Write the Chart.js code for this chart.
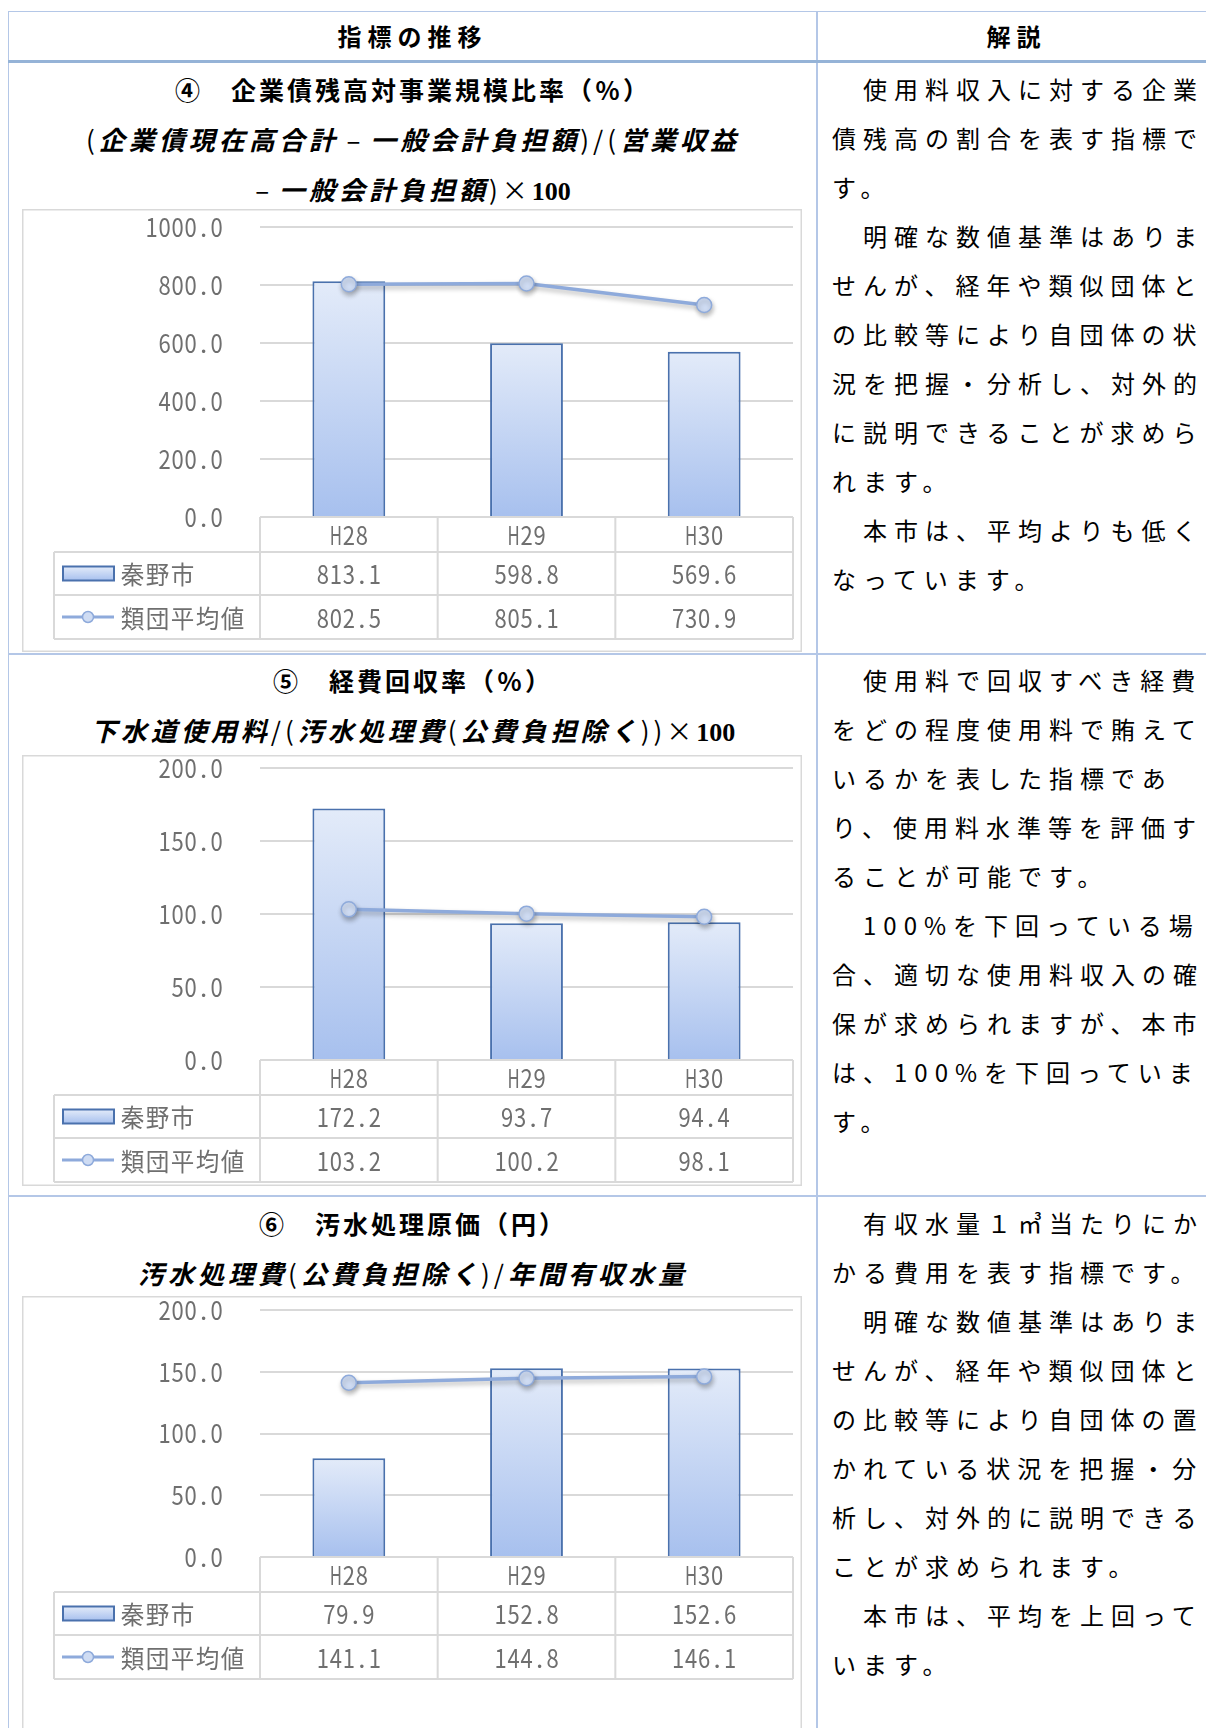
<!DOCTYPE html>
<html lang="ja">
<head>
<meta charset="utf-8">
<title>指標の推移</title>
<script src="https://cdn.jsdelivr.net/npm/chart.js@4.4.1/dist/chart.umd.min.js"></script>
<style>
html, body { margin: 0; padding: 0; background: #fff; }
body { width: 1206px; height: 1728px; overflow: hidden; position: relative;
       font-family: "Noto Sans CJK JP", sans-serif; color: #000; }
.ln { position: absolute; background: #b4c7e7; }
.hd { position: absolute; top: 11px; height: 50px; line-height: 50px; text-align: center;
      font-weight: bold; font-size: 24px; letter-spacing: 6px; }
.ttl { position: absolute; left: 9px; width: 808px; text-align: center; line-height: 50px; white-space: nowrap; }
.ttl .t { font-weight: bold; font-size: 25px; letter-spacing: 3px; }
.ttl .f { font-size: 26px; letter-spacing: 4px; }
.ttl .f i { font-weight: bold; font-style: italic; }
.ttl .f .n { font-family: "Liberation Serif", serif; font-weight: bold; letter-spacing: 0; }
.ttl .f .d { letter-spacing: 2px; }
.txt { position: absolute; left: 832px; font-size: 24px; line-height: 49px; letter-spacing: 7px; white-space: nowrap; }
canvas { position: absolute; left: 22px; }
</style>
</head>
<body>

<!-- table frame -->
<div class="ln" style="left:8px;top:11px;width:1198px;height:1px"></div>
<div class="ln" style="left:8px;top:11px;width:1px;height:1717px"></div>
<div class="ln" style="left:816px;top:11px;width:2px;height:1717px"></div>
<div class="ln" style="left:8px;top:60px;width:1198px;height:3px;background:#95b3d7"></div>
<div class="ln" style="left:8px;top:653px;width:1198px;height:2px"></div>
<div class="ln" style="left:8px;top:1195px;width:1198px;height:2px"></div>

<div class="hd" style="left:9px;width:807px">指標の推移</div>
<div class="hd" style="left:818px;width:397px">解説</div>

<!-- ④ -->
<div class="ttl" style="top:64px">
  <div class="t">④　企業債残高対事業規模比率（％）</div>
  <div class="f">(<i>企業債現在高合計</i><span class="d"> – </span><i>一般会計負担額</i>)/(<i>営業収益</i></div>
  <div class="f"><span class="d">– </span><i>一般会計負担額</i>)×<span class="n">100</span></div>
</div>
<canvas id="chart1" width="780" height="443" style="top:209px"></canvas>
<div class="txt" style="top:64px">
　使用料収入に対する企業<br>債残高の割合を表す指標で<br>す。<br>
　明確な数値基準はありま<br>せんが、経年や類似団体と<br>の比較等により自団体の状<br>況を把握・分析し、対外的<br>に説明できることが求めら<br>れます。<br>
　本市は、平均よりも低く<br>なっています。
</div>

<!-- ⑤ -->
<div class="ttl" style="top:655px">
  <div class="t">⑤　経費回収率（％）</div>
  <div class="f"><i>下水道使用料</i>/(<i>汚水処理費</i>(<i>公費負担除く</i>))×<span class="n">100</span></div>
</div>
<canvas id="chart2" width="780" height="431" style="top:755px"></canvas>
<div class="txt" style="top:655px">
　使用料で回収すべき経費<br>をどの程度使用料で賄えて<br>いるかを表した指標であ<br>り、使用料水準等を評価す<br>ることが可能です。<br>
　100%を下回っている場<br>合、適切な使用料収入の確<br>保が求められますが、本市<br>は、100%を下回っていま<br>す。
</div>

<!-- ⑥ -->
<div class="ttl" style="top:1198px">
  <div class="t">⑥　汚水処理原価（円）</div>
  <div class="f"><i>汚水処理費</i>(<i>公費負担除く</i>)/<i>年間有収水量</i></div>
</div>
<canvas id="chart3" width="780" height="440" style="top:1296px"></canvas>
<div class="txt" style="top:1198px">
　有収水量１㎥当たりにか<br>かる費用を表す指標です。<br>
　明確な数値基準はありま<br>せんが、経年や類似団体と<br>の比較等により自団体の置<br>かれている状況を把握・分<br>析し、対外的に説明できる<br>ことが求められます。<br>
　本市は、平均を上回って<br>います。
</div>

<script>
// data
const years = ["H28", "H29", "H30"];
const seriesNames = ["秦野市", "類団平均値"];

const hadanoDebt = [813.1, 598.8, 569.6];
const avgDebt = [802.5, 805.1, 730.9];
const debtTicks = [0, 200, 400, 600, 800, 1000];

const hadanoRecovery = [172.2, 93.7, 94.4];
const avgRecovery = [103.2, 100.2, 98.1];
const recoveryTicks = [0, 50, 100, 150, 200];

const hadanoCost = [79.9, 152.8, 152.6];
const avgCost = [141.1, 144.8, 146.1];
const costTicks = [0, 50, 100, 150, 200];

const GRID = "#d9d9d9";
const LABEL = "#6f6f6f";
const BAR_EDGE = "#4a71ad";
const LINE = "#8eaadb";
const DOT = "#cfdcf3";

// draws text like a fixed-pitch Japanese font: half-width cells for ASCII, full cells otherwise
function drawMono(ctx, text, x, y, align, size) {
    ctx.save();
    ctx.font = size + 'px "Noto Sans CJK JP"';
    ctx.textBaseline = "middle";
    ctx.textAlign = "center";
    const chars = [...text];
    const cells = chars.map(ch => ch.charCodeAt(0) < 256 ? size / 2 : size);
    const total = cells.reduce((a, b) => a + b, 0);
    let cx = align === "right" ? x - total : align === "center" ? x - total / 2 : x;
    chars.forEach((ch, i) => {
        const w = cells[i];
        const mw = ctx.measureText(ch).width;
        const s = mw > w * 0.94 ? (w * 0.94) / mw : 1;
        ctx.save();
        ctx.translate(cx + w / 2, y);
        ctx.scale(s, 1);
        ctx.fillText(ch, 0, 0);
        ctx.restore();
        cx += w;
    });
    ctx.restore();
}

function barGradient(ctx, top, bottom) {
    const g = ctx.createLinearGradient(0, top, 0, bottom);
    g.addColorStop(0, "#e3ebf9");
    g.addColorStop(1, "#a7c0ee");
    return g;
}

const boxPlugin = {
    id: "box",
    beforeDraw(chart) {
        const ctx = chart.ctx;
        ctx.save();
        ctx.strokeStyle = GRID;
        ctx.lineWidth = 1.5;
        ctx.strokeRect(0.75, 0.75, chart.width - 1.5, chart.height - 1.5);
        ctx.restore();
    }
};

// soft shadow under the average line, like the office chart
const shadowPlugin = {
    id: "lineShadow",
    beforeDatasetDraw(chart, args) {
        if (args.meta.type !== "line") return;
        const ctx = chart.ctx;
        ctx.save();
        ctx.shadowColor = "rgba(0,0,0,0.28)";
        ctx.shadowBlur = 5;
        ctx.shadowOffsetX = 1;
        ctx.shadowOffsetY = 3;
    },
    afterDatasetDraw(chart, args) {
        if (args.meta.type === "line") chart.ctx.restore();
    }
};

// y labels + data table under the plot
const tablePlugin = {
    id: "dataTable",
    afterDraw(chart) {
        const ctx = chart.ctx;
        const area = chart.chartArea;
        const xs = chart.scales.x;
        const ys = chart.scales.y;
        const ds = chart.data.datasets;
        const n = chart.data.labels.length;
        const cw = (area.right - area.left) / n;
        const y0 = area.bottom, y1 = y0 + 35, y2 = y1 + 43, y3 = y2 + 44;
        const legL = 32;

        ctx.save();
        ctx.fillStyle = LABEL;
        ys.ticks.forEach(t => drawMono(ctx, t.value.toFixed(1), 201, ys.getPixelForValue(t.value), "right", 26));

        ctx.strokeStyle = GRID;
        ctx.lineWidth = 2;
        ctx.beginPath();
        ctx.moveTo(area.left, y0); ctx.lineTo(area.right, y0);
        [y1, y2, y3].forEach(v => { ctx.moveTo(legL, v); ctx.lineTo(area.right, v); });
        ctx.moveTo(legL, y1); ctx.lineTo(legL, y3);
        for (let i = 0; i <= n; i++) {
            const vx = area.left + i * cw;
            ctx.moveTo(vx, y0); ctx.lineTo(vx, y3);
        }
        ctx.stroke();

        chart.data.labels.forEach((lab, i) => {
            const cx = xs.getPixelForValue(i);
            drawMono(ctx, lab, cx, (y0 + y1) / 2 + 1, "center", 26);
            drawMono(ctx, ds[0].data[i].toFixed(1), cx, (y1 + y2) / 2 + 1, "center", 26);
            drawMono(ctx, ds[1].data[i].toFixed(1), cx, (y2 + y3) / 2 + 1, "center", 26);
        });

        // legend keys
        const m1 = (y1 + y2) / 2, m2 = (y2 + y3) / 2;
        ctx.fillStyle = barGradient(ctx, m1 - 7, m1 + 7);
        ctx.fillRect(41, m1 - 7, 51, 14);
        ctx.strokeStyle = BAR_EDGE;
        ctx.lineWidth = 2;
        ctx.strokeRect(41, m1 - 7, 51, 14);

        ctx.strokeStyle = LINE;
        ctx.lineWidth = 3;
        ctx.beginPath();
        ctx.moveTo(40, m2); ctx.lineTo(92, m2);
        ctx.stroke();
        ctx.beginPath();
        ctx.arc(66, m2, 5.5, 0, Math.PI * 2);
        ctx.fillStyle = DOT;
        ctx.fill();
        ctx.lineWidth = 1.5;
        ctx.stroke();

        ctx.fillStyle = LABEL;
        drawMono(ctx, ds[0].label, 98, m1 + 1, "left", 25);
        drawMono(ctx, ds[1].label, 98, m2 + 1, "left", 25);
        ctx.restore();
    }
};

function makeChart(id, bars, line, ticks, padTop, padBottom) {
    return new Chart(document.getElementById(id), {
        type: "bar",
        data: {
            labels: years,
            datasets: [{
                type: "bar",
                label: seriesNames[0],
                data: bars,
                backgroundColor: c => {
                    const ch = c.chart;
                    if (!ch.chartArea || c.raw == null) return "#c9d8f3";
                    const y = ch.scales.y;
                    return barGradient(ch.ctx, y.getPixelForValue(c.raw), y.getPixelForValue(0));
                },
                borderColor: BAR_EDGE,
                borderWidth: 2,
                barPercentage: 0.41,
                categoryPercentage: 1,
                order: 2
            }, {
                type: "line",
                label: seriesNames[1],
                data: line,
                borderColor: LINE,
                borderWidth: 3.5,
                pointRadius: 7.5,
                pointBackgroundColor: DOT,
                pointBorderColor: LINE,
                pointBorderWidth: 1.5,
                tension: 0,
                clip: false,
                order: 1
            }]
        },
        options: {
            responsive: false,
            animation: false,
            layout: { padding: { top: padTop, bottom: padBottom, left: 0, right: 8 } },
            plugins: { legend: { display: false }, tooltip: { enabled: false } },
            scales: {
                x: { display: false, offset: true },
                y: {
                    min: ticks[0],
                    max: ticks[ticks.length - 1],
                    afterBuildTicks: s => { s.ticks = ticks.map(v => ({ value: v })); },
                    afterFit: s => { s.width = 238; },
                    ticks: { display: false },
                    grid: { color: GRID, lineWidth: 2, drawTicks: false },
                    border: { display: false }
                }
            }
        },
        plugins: [boxPlugin, shadowPlugin, tablePlugin]
    });
}

makeChart("chart1", hadanoDebt, avgDebt, debtTicks, 18, 135);
makeChart("chart2", hadanoRecovery, avgRecovery, recoveryTicks, 13, 126);
makeChart("chart3", hadanoCost, avgCost, costTicks, 14, 179);
</script>
</body>
</html>
